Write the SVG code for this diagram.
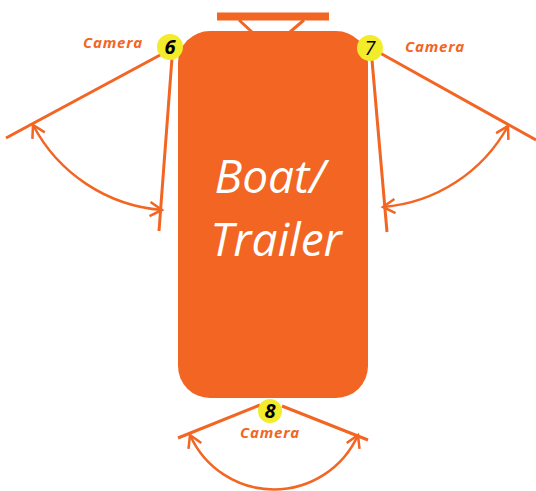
<svg xmlns="http://www.w3.org/2000/svg" width="536" height="491" viewBox="0 0 536 491">
<defs>
<style>
.ln{stroke:#F26522;stroke-width:3;fill:none;stroke-linecap:butt}
.arc{stroke:#F26522;stroke-width:2.5;fill:none;marker-start:url(#ah);marker-end:url(#ah)}
.cam{font-family:"Open Sans","Liberation Sans",sans-serif;font-style:italic;font-weight:bold;font-size:15px;letter-spacing:0.8px;fill:#F26522}
.num{font-family:"Open Sans","Liberation Sans",sans-serif;font-style:italic;font-weight:bold;font-size:20px;fill:#000;text-anchor:middle}
.dot{fill:#F2EC2A}
.big{font-family:"Open Sans","Liberation Sans",sans-serif;font-style:italic;font-size:46px;fill:#fff;text-anchor:middle}
</style>
<marker id="ah" markerWidth="20" markerHeight="20" refX="14" refY="8" orient="auto-start-reverse" markerUnits="userSpaceOnUse">
<path d="M2,1 L14,8 L2,15" fill="none" stroke="#F26522" stroke-width="2.5"/>
</marker>
</defs>
<rect width="536" height="491" fill="#fff"/>
<g id="boat">
<line class="ln" x1="217" y1="16.5" x2="329" y2="16.5" style="stroke-width:8"/>
<line class="ln" x1="239" y1="20" x2="252" y2="32"/>
<line class="ln" x1="304" y1="20" x2="290" y2="32"/>
<rect x="178" y="31" width="190" height="367" rx="32" ry="32" fill="#F26522"/>
<text class="big" x="270" y="193">Boat/</text>
<text class="big" x="276" y="256">Trailer</text>
</g>
<g id="connectors">
<line class="ln" x1="162" y1="54" x2="6" y2="138"/>
<line class="ln" x1="172" y1="58" x2="159" y2="231"/>
<path class="arc" d="M33,125 A160,160 0 0 0 162,210"/>
<line class="ln" x1="380" y1="53" x2="536" y2="140"/>
<line class="ln" x1="372" y1="60" x2="387" y2="232"/>
<path class="arc" d="M508,126 A157,157 0 0 1 383,207"/>
<line class="ln" x1="260" y1="405" x2="178" y2="438"/>
<line class="ln" x1="282" y1="406" x2="368" y2="440"/>
<path class="arc" d="M190,435 A92,92 0 0 0 358,435"/>
</g>
<g id="camera6">
<circle class="dot" cx="170" cy="47" r="13"/>
<text class="num" x="170" y="54">6</text>
<text class="cam" x="83" y="48">Camera</text>
</g>
<g id="camera7">
<circle class="dot" cx="370" cy="48" r="13"/>
<text class="num" x="370" y="55" style="font-weight:normal">7</text>
<text class="cam" x="405" y="52">Camera</text>
</g>
<g id="camera8">
<circle class="dot" cx="270" cy="411" r="12"/>
<text class="num" x="270" y="418">8</text>
<text class="cam" x="240" y="438">Camera</text>
</g>
</svg>
